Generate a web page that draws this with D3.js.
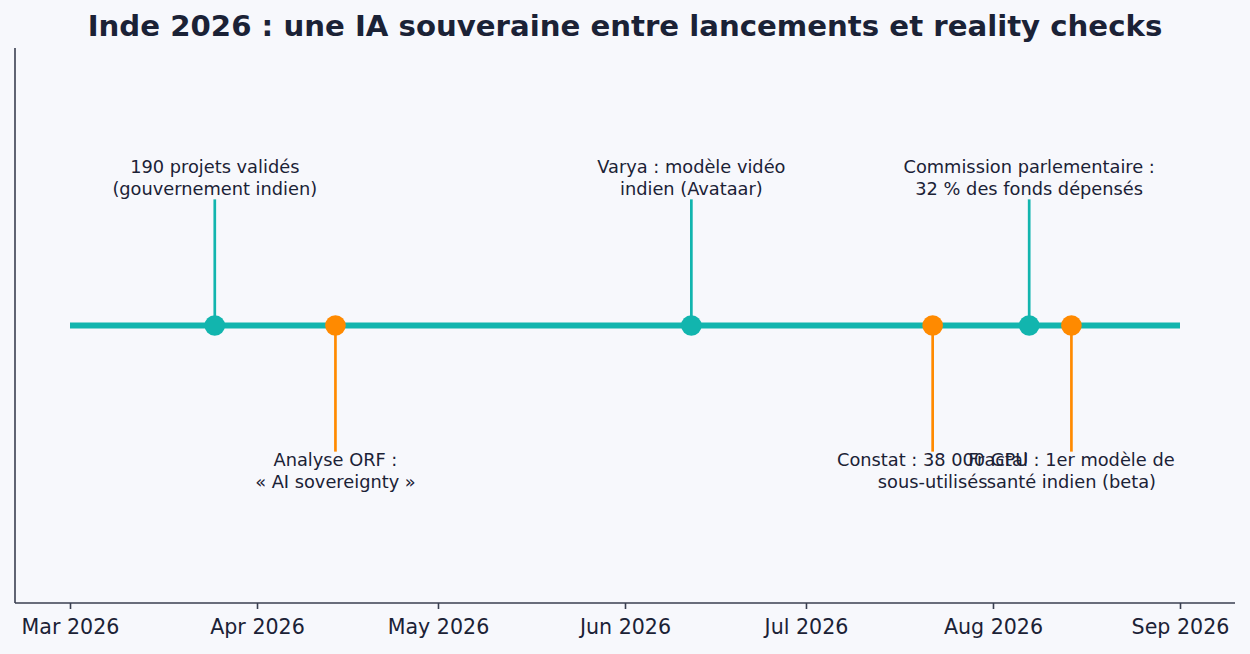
<!DOCTYPE html>
<html lang="fr">
<head>
<meta charset="utf-8">
<title>Inde 2026 : une IA souveraine</title>
<script src="https://d3js.org/d3.v7.min.js"></script>
<style>
  body { margin: 0; background: #f7f8fc; }
  svg { display: block; font-family: "DejaVu Sans", sans-serif; }
</style>
</head>
<body>
<svg id="chart"></svg>
<script>
    // event data
    const eventDates = ["2026-03-25", "2026-04-14", "2026-06-12", "2026-07-22", "2026-08-07", "2026-08-14"];
    const eventLabels = [
        ["190 projets validés", "(gouvernement indien)"],
        ["Analyse ORF :", "« AI sovereignty »"],
        ["Varya : modèle vidéo", "indien (Avataar)"],
        ["Constat : 38 000 GPU", "sous-utilisés"],
        ["Commission parlementaire :", "32 % des fonds dépensés"],
        ["Fractal : 1er modèle de", "santé indien (beta)"]
    ];
    const eventSide = [1, -1, 1, -1, 1, -1];   // 1 = above, -1 = below
    const eventKind = ["launch", "check", "launch", "check", "launch", "check"];
    const tickDates = ["2026-03-01", "2026-04-01", "2026-05-01", "2026-06-01", "2026-07-01", "2026-08-01", "2026-09-01"];
    const lineSpan = ["2026-03-01", "2026-09-01"];

    const width = 1250, height = 654;
    const plot = {left: 15, right: 1235, top: 48, bottom: 603};
    const colors = {launch: "#12b5ae", check: "#ff8a00"};
    const ink = "#1b2236";

    const parse = d3.utcParse("%Y-%m-%d");
    const fmt = d3.utcFormat("%b %Y");

    let svg = d3.select("#chart")
        .attr("width", width)
        .attr("height", height);

    svg.append("rect").attr("width", width).attr("height", height).attr("fill", "#f7f8fc");

    // x : dates, with 5% padding like the original
    let x = d3.scaleUtc()
        .domain(lineSpan.map(parse))
        .range([70, 1180]);

    let y = d3.scaleLinear()
        .domain([-1.1, 1.1])
        .range([plot.bottom, plot.top]);

    // axes
    let xAxis = svg.append("g")
        .attr("transform", `translate(0,${plot.bottom})`)
        .call(d3.axisBottom(x)
            .tickValues(tickDates.map(parse))
            .tickFormat(fmt)
            .tickSize(6)
            .tickPadding(10));
    xAxis.select(".domain").attr("d", `M${plot.left},0H${plot.right}`);
    xAxis.selectAll("line, .domain").attr("stroke", "#3a3f50").attr("stroke-width", 1.6);
    xAxis.selectAll("text").attr("fill", ink).attr("font-size", 20.6)
        .attr("font-family", "DejaVu Sans, sans-serif");

    svg.append("line")
        .attr("x1", plot.left).attr("x2", plot.left)
        .attr("y1", plot.top).attr("y2", plot.bottom)
        .attr("stroke", "#3a3f50").attr("stroke-width", 1.6);

    // main timeline
    svg.append("line")
        .attr("x1", x(parse(lineSpan[0]))).attr("x2", x(parse(lineSpan[1])))
        .attr("y1", y(0)).attr("y2", y(0))
        .attr("stroke", colors.launch).attr("stroke-width", 6);

    let events = eventDates.map((d, i) => ({
        date: parse(d), label: eventLabels[i], side: eventSide[i], kind: eventKind[i]
    }));

    let g = svg.append("g").selectAll("g")
        .data(events)
        .join("g");

    g.append("line")
        .attr("x1", d => x(d.date)).attr("x2", d => x(d.date))
        .attr("y1", y(0))
        .attr("y2", d => y(d.side * 0.5))
        .attr("stroke", d => colors[d.kind])
        .attr("stroke-width", 2.7);

    g.append("circle")
        .attr("cx", d => x(d.date)).attr("cy", y(0))
        .attr("r", 10.3)
        .attr("fill", d => colors[d.kind]);

    g.append("text")
        .attr("text-anchor", "middle")
        .attr("font-size", 17.8)
        .attr("fill", ink)
        .selectAll("tspan")
        .data(d => d.label.map((t, j) => ({t, j, d})))
        .join("tspan")
        .attr("x", p => x(p.d.date))
        .attr("y", p => p.d.side > 0
            ? y(0.5) - 4.5 - (1 - p.j) * 21.8
            : y(-0.5) + 14.5 + p.j * 21.8)
        .text(p => p.t);

    svg.append("text")
        .attr("x", width / 2).attr("y", 36)
        .attr("text-anchor", "middle")
        .attr("font-size", 29.2)
        .attr("font-weight", "bold")
        .attr("fill", ink)
        .text("Inde 2026 : une IA souveraine entre lancements et reality checks");
</script>
</body>
</html>
